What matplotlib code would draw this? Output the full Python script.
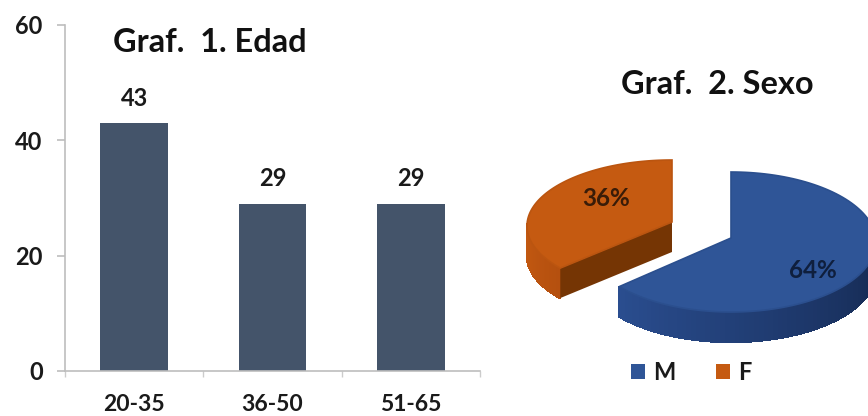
import numpy as np
import matplotlib
matplotlib.use('Agg')
import matplotlib.pyplot as plt
from matplotlib.patches import Polygon, Patch
from matplotlib.collections import PolyCollection
from matplotlib.colors import LinearSegmentedColormap

plt.rcParams['font.family'] = ['Lato', 'DejaVu Sans']

age_groups = ['20-35', '36-50', '51-65']
age_values = [43, 29, 29]
y_ticks = [0, 20, 40, 60]

sex_labels = ['M', 'F']
sex_values = [64, 36]

W, H = 868, 416
fig = plt.figure(figsize=(W / 100, H / 100), dpi=100)

# bar chart
ax = fig.add_axes([65 / W, 1 - 371 / H, (480 - 65) / W, (371 - 25) / H])
x = np.arange(len(age_groups))
bars = ax.bar(x, age_values, width=0.49, color='#44546a', edgecolor='none')
ax.set_xlim(-0.5, 2.5)
ax.set_ylim(0, 60)
ax.set_yticks(y_ticks)
ax.set_xticks(x)
ax.set_xticklabels(age_groups)
ax.set_xticks([-0.5, 0.5, 1.5, 2.5], minor=True)
for s in ['top', 'right']:
    ax.spines[s].set_visible(False)
for s in ['left', 'bottom']:
    ax.spines[s].set_color('#bdbdbd')
    ax.spines[s].set_linewidth(1.2)
ax.tick_params(axis='y', length=6, width=1.2, color='#bdbdbd', labelsize=17,
               labelcolor='#1a1a1a', pad=10)
ax.tick_params(axis='x', which='major', length=0, labelsize=16.5,
               labelcolor='#1a1a1a', pad=16.5)
ax.tick_params(axis='x', which='minor', length=4, width=1, color='#cccccc')
for lab in ax.get_xticklabels() + ax.get_yticklabels():
    lab.set_fontweight('bold')
for xi, v in zip(x, age_values):
    ax.annotate(str(v), (xi, v), xytext=(0, 25), textcoords='offset pixels',
                ha='center', va='center', fontsize=17, fontweight='bold', color='#1a1a1a')

fig.text(210 / W, 1 - 43 / H, 'Graf.  1. Edad', ha='center', va='center',
         fontsize=23.4, fontweight='bold', color='#111111')
fig.text(717 / W, 1 - 84 / H, 'Graf.  2. Sexo', ha='center', va='center',
         fontsize=23.4, fontweight='bold', color='#111111')

# 3D looking pie, in pixel coordinates of the figure
pax = fig.add_axes([0, 0, 1, 1], facecolor='none')
pax.set_xlim(0, W)
pax.set_ylim(H, 0)
pax.axis('off')

DEPTH = 30


def rim(a0, a1, cx, cy, rx, ry, n=120):
    t = np.radians(np.linspace(a0, a1, n))
    return np.column_stack([cx + rx * np.cos(t), cy - ry * np.sin(t)])


def shade(col_a, col_b, n):
    cmap = LinearSegmentedColormap.from_list('s', [col_a, col_b])
    return cmap(np.linspace(0, 1, n))


def draw_slice(start, sweep, tip, radii, top_col, edge_col, side_a, side_b, cut_col):
    # clockwise from start, angles as on a pie chart
    cx, cy = tip
    cy_e = cy + 4
    pts = rim(start, start - sweep, cx, cy_e, radii[0], radii[1])
    # outer wall, only the part facing the viewer, sorted left to right
    verts = []
    for p, q in zip(pts[:-1], pts[1:]):
        if p[1] >= cy_e - 1 or q[1] >= cy_e - 1:
            verts.append([p, q, q + [0, DEPTH], p + [0, DEPTH]])
    verts.sort(key=lambda v: v[0][0])
    cols = shade(side_a, side_b, len(verts))
    pax.add_collection(PolyCollection(verts, facecolors=cols, edgecolors=cols, linewidths=1,
                                      antialiaseds=False, zorder=2))
    # cut face from the centre to the start of the slice
    if cut_col is not None:
        cut = np.array([[cx, cy], pts[0], pts[0] + [0, DEPTH], [cx, cy + DEPTH]])
        pax.add_patch(Polygon(cut, closed=True, fc=cut_col, ec='none', zorder=3))
    # top with a darker rim
    poly = np.vstack([[cx, cy], pts])
    pax.add_patch(Polygon(poly, closed=True, fc=top_col, ec=edge_col, lw=1.2, zorder=4))
    return pts


total = sum(sex_values)
sweep_m = 360 * sex_values[0] / total
sweep_f = 360 * sex_values[1] / total
draw_slice(90, sweep_m, (731, 238), (145, 70), '#2f5597', '#2b4f8e', '#2a4d8f', '#14284f', None)
draw_slice(90 + sweep_f, sweep_f, (672, 222), (145, 66), '#c55a11', '#bb5510', '#c55a11', '#b5500f', '#753504')

pax.text(606, 198, f'{sex_values[1]}%', ha='center', va='center', fontsize=17.5,
         fontweight='bold', color='#3a1c08', zorder=5)
pax.text(813, 271, f'{sex_values[0]}%', ha='center', va='center', fontsize=17.5,
         fontweight='bold', color='#0f1f3d', zorder=5)

handles = [Patch(fc='#2f5597', ec='none', label=sex_labels[0]),
           Patch(fc='#c55a11', ec='none', label=sex_labels[1])]
leg = fig.legend(handles=handles, loc='center', bbox_to_anchor=(691 / W, 1 - 372 / H),
                 ncol=2, frameon=False, fontsize=17, handlelength=0.6, handleheight=0.6,
                 handletextpad=0.34, columnspacing=1.7)
for t in leg.get_texts():
    t.set_fontweight('bold')
    t.set_color('#1a1a1a')

fig.savefig('out.png', dpi=100)
